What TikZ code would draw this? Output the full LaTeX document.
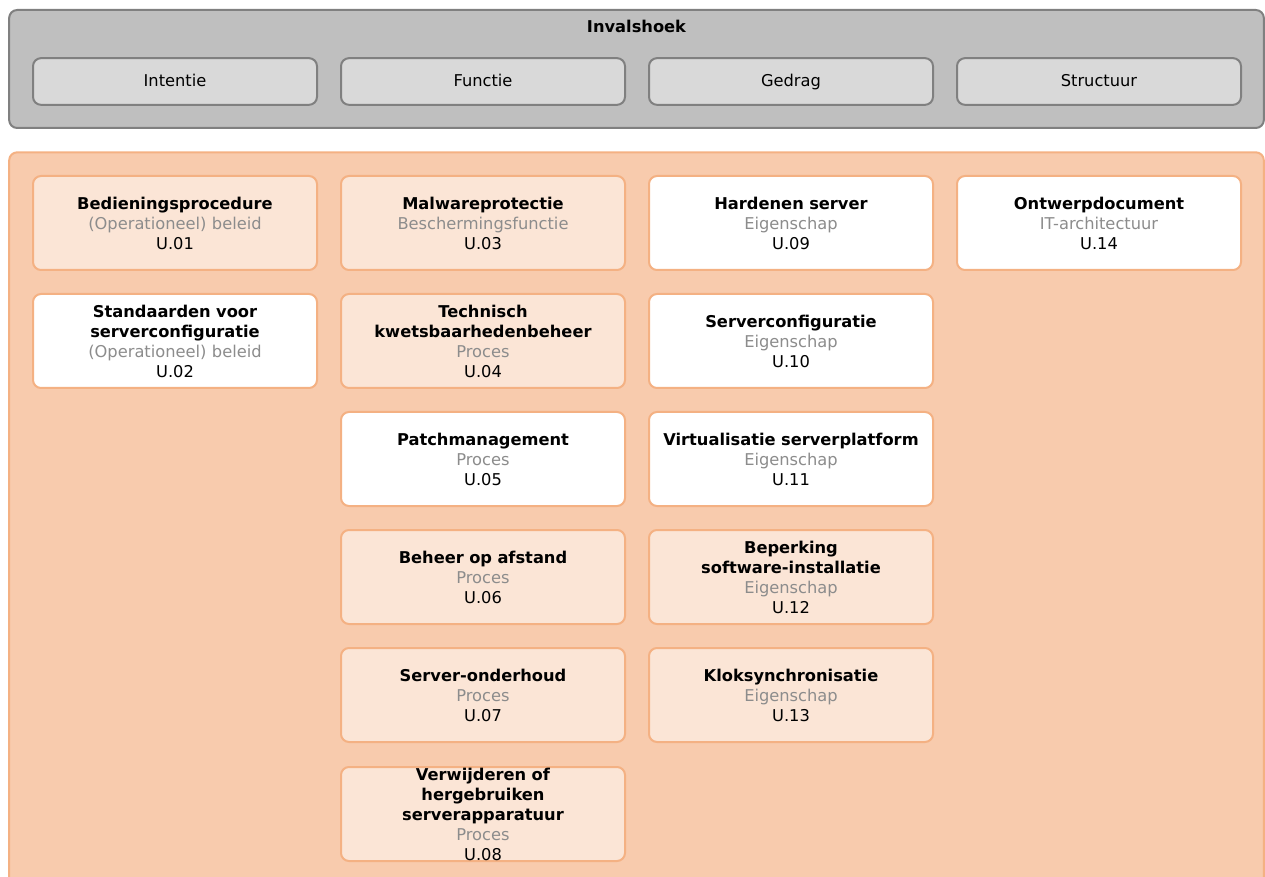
\documentclass[tikz,border=0pt]{standalone}
\usepackage{fontspec}
\setmainfont{DejaVu Sans}
\definecolor{grayfill}{HTML}{BFBFBF}
\definecolor{grayline}{HTML}{808080}
\definecolor{grayinner}{HTML}{D9D9D9}
\definecolor{orfill}{HTML}{F8CBAD}
\definecolor{orline}{HTML}{F4B183}
\definecolor{orlight}{HTML}{FBE5D6}
\definecolor{subgray}{HTML}{8C8C8C}
\begin{document}
\begin{tikzpicture}[x=0.75pt,y=-0.75pt,
  every node/.style={font=\fontsize{12.2}{15}\selectfont},
  grouptop/.style={draw=grayline,fill=grayfill,line width=1.5pt,rounded corners=6pt,minimum width=941pt,minimum height=88.5pt,inner sep=0pt},
  grouporange/.style={draw=orline,fill=orfill,line width=1.5pt,rounded corners=6pt,minimum width=941pt,minimum height=562pt,inner sep=0pt},
  aspect/.style={draw=grayline,fill=grayinner,line width=1.5pt,rounded corners=6pt,minimum width=213pt,minimum height=35pt,inner sep=0pt,align=center,text height=10.5pt,text depth=2.5pt},
  elem/.style={draw=orline,line width=1.5pt,rounded corners=6pt,minimum width=213pt,minimum height=70.5pt,inner sep=0pt,align=center,text width=210pt},
  lt/.style={elem,fill=orlight},
  wt/.style={elem,fill=white}
]
\useasboundingbox (0,0) rectangle (1265,877);
\clip (0,0) rectangle (1265,877);
\node[grouptop] (top) at (636.5,69) {};
\node[font=\fontsize{12.2}{15}\selectfont\bfseries] (ttl) at (636.5,26) {Invalshoek};
\node[aspect] (a1) at (175,81.5) {Intentie};
\node[aspect] (a2) at (483,81.5) {Functie};
\node[aspect] (a3) at (791,81.5) {Gedrag};
\node[aspect] (a4) at (1099,81.5) {Structuur};
\node[grouporange] (org) at (636.5,527) {};
% column 1
\node[lt] (u01) at (175,223) {\textbf{Bedieningsprocedure}\\{\color{subgray}(Operationeel) beleid}\\U.01};
\node[wt] (u02) at (175,341) {\textbf{Standaarden voor}\\\textbf{serverconfiguratie}\\{\color{subgray}(Operationeel) beleid}\\U.02};
% column 2
\node[lt] (u03) at (483,223) {\textbf{Malwareprotectie}\\{\color{subgray}Beschermingsfunctie}\\U.03};
\node[lt] (u04) at (483,341) {\textbf{Technisch}\\\textbf{kwetsbaarhedenbeheer}\\{\color{subgray}Proces}\\U.04};
\node[wt] (u05) at (483,459) {\textbf{Patchmanagement}\\{\color{subgray}Proces}\\U.05};
\node[lt] (u06) at (483,577) {\textbf{Beheer op afstand}\\{\color{subgray}Proces}\\U.06};
\node[lt] (u07) at (483,695) {\textbf{Server-onderhoud}\\{\color{subgray}Proces}\\U.07};
\node[lt] (u08) at (483,814) {\textbf{Verwijderen of}\\\textbf{hergebruiken}\\\textbf{serverapparatuur}\\{\color{subgray}Proces}\\U.08};
% column 3
\node[wt] (u09) at (791,223) {\textbf{Hardenen server}\\{\color{subgray}Eigenschap}\\U.09};
\node[wt] (u10) at (791,341) {\textbf{Serverconfiguratie}\\{\color{subgray}Eigenschap}\\U.10};
\node[wt] (u11) at (791,459) {\textbf{Virtualisatie serverplatform}\\{\color{subgray}Eigenschap}\\U.11};
\node[lt] (u12) at (791,577) {\textbf{Beperking}\\\textbf{software-installatie}\\{\color{subgray}Eigenschap}\\U.12};
\node[lt] (u13) at (791,695) {\textbf{Kloksynchronisatie}\\{\color{subgray}Eigenschap}\\U.13};
% column 4
\node[wt] (u14) at (1099,223) {\textbf{Ontwerpdocument}\\{\color{subgray}IT-architectuur}\\U.14};
\end{tikzpicture}
\end{document}
